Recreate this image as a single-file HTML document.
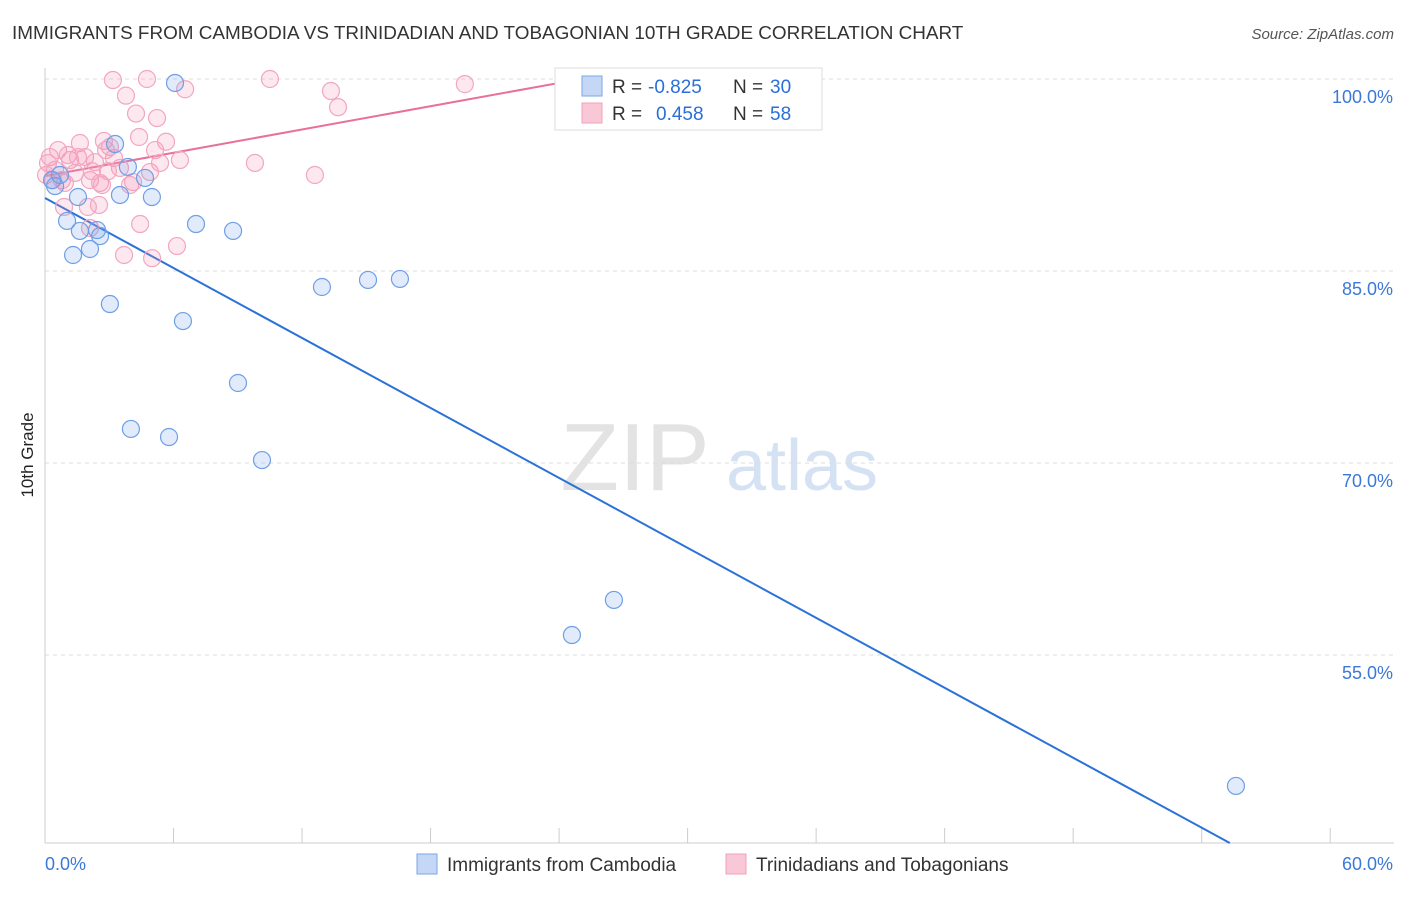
<!DOCTYPE html>
<html><head><meta charset="utf-8"><style>
body{margin:0;background:#fff;font-family:"Liberation Sans",sans-serif;}
svg text{font-family:"Liberation Sans",sans-serif;}
</style></head><body>
<svg id="chart" width="1406" height="892" xmlns="http://www.w3.org/2000/svg">
<text x="12" y="39" font-size="18.9" fill="#333">IMMIGRANTS FROM CAMBODIA VS TRINIDADIAN AND TOBAGONIAN 10TH GRADE CORRELATION CHART</text>
<text x="1394" y="39" font-size="15" fill="#555" text-anchor="end" font-style="italic">Source: ZipAtlas.com</text>
<text transform="translate(33,455) rotate(-90)" font-size="17" fill="#222" text-anchor="middle">10th Grade</text>
<g>
<text x="635" y="490" font-size="96" fill="#e3e3e3" font-family="Liberation Serif,serif" text-anchor="middle">ZIP</text>
<text x="802" y="490" font-size="72" fill="#d5e2f4" text-anchor="middle">atlas</text>
</g>
<g id="grid"></g><g id="axes"></g><g id="lines"></g><g id="pts"></g>
<g>
<rect x="555" y="68" width="267" height="62" fill="#fff" stroke="#ddd"/>
<rect x="582" y="76" width="20" height="20" fill="#c4d8f6" stroke="#7aa6e8"/>
<rect x="582" y="103" width="20" height="20" fill="#f9c8d7" stroke="#f0a0bc"/>
<text x="612" y="93" font-size="19" fill="#333">R =</text>
<text x="648" y="93" font-size="19" fill="#2a6fd8">-0.825</text>
<text x="733" y="93" font-size="19" fill="#333">N =</text>
<text x="770" y="93" font-size="19" fill="#2a6fd8">30</text>
<text x="612" y="120" font-size="19" fill="#333">R =</text>
<text x="656" y="120" font-size="19" fill="#2a6fd8">0.458</text>
<text x="733" y="120" font-size="19" fill="#333">N =</text>
<text x="770" y="120" font-size="19" fill="#2a6fd8">58</text>
</g>
<g>
<rect x="417" y="854" width="20" height="20" fill="#c4d8f6" stroke="#7aa6e8"/>
<text x="447" y="871" font-size="19" fill="#333">Immigrants from Cambodia</text>
<rect x="726" y="854" width="20" height="20" fill="#f9c8d7" stroke="#f0a0bc"/>
<text x="756" y="871" font-size="19" fill="#333">Trinidadians and Tobagonians</text>
</g>
</svg>
<script>
const yTicks=[100,85,70,55];
const yTickLabels=["100.0%","85.0%","70.0%","55.0%"];
const xTickLabels=["0.0%","60.0%"];
const blueX=[6.07,3.27,0.47,0.70,1.03,1.31,1.63,2.10,2.43,2.57,1.54,3.50,3.87,4.67,4.99,3.03,4.01,5.79,6.44,7.05,8.78,9.01,10.13,12.93,15.08,16.57,24.6,26.56,55.6,0.33];
const blueY=[99.69,94.92,91.64,92.5,88.91,86.25,88.13,86.72,88.2,87.73,90.78,90.94,93.13,92.27,90.78,82.42,72.66,72.03,81.09,88.67,88.13,76.25,70.23,83.75,84.3,84.38,56.56,59.3,44.77,92.1];
const pinkX=[3.17,4.76,10.5,19.6,28.2,6.54,3.78,13.35,13.68,4.25,5.23,4.39,5.65,1.63,2.75,3.03,5.14,0.23,0.61,1.17,1.87,2.33,3.22,6.30,9.80,0.14,0.47,1.40,0.79,2.10,2.57,3.50,4.90,4.11,12.6,0.89,2.0,2.52,4.44,6.16,3.69,5.0,2.94,1.07,2.10,2.66,1.54,0.93,3.97,2.19,2.85,0.37,5.37,0.05];
const pinkY=[99.92,100,100,99.6,100,99.2,98.7,99.06,97.8,97.3,96.95,95.47,95.1,95.0,95.16,94.69,94.45,93.9,94.45,93.67,93.9,93.5,93.83,93.67,93.44,93.44,92.9,92.66,92.1,92.1,91.88,93.05,92.73,91.95,92.5,90.0,90.0,90.16,88.67,86.95,86.25,86.0,92.8,94.06,88.36,91.72,93.9,91.88,91.72,92.8,94.45,92.1,93.44,92.5];
const blueFit=[90.7,-0.911];
const pinkFit=[92.42,0.303,25];
const X=v=>45+v*21.42, Y=v=>79+(100-v)*12.8;
const NS="http://www.w3.org/2000/svg";
function mk(p,t,a){const e=document.createElementNS(NS,t);for(const k in a)e.setAttribute(k,a[k]);document.getElementById(p).appendChild(e);return e;}
yTicks.forEach((t,i)=>{
 const g=mk('grid','line',{x1:45,x2:1394,y1:Y(t),y2:Y(t),stroke:'#ddd','stroke-dasharray':'4,4'});
 
 
 const l=mk('grid','text',{x:1393,y:Y(t)+24,'font-size':18,fill:'#3b78d8','text-anchor':'end'});
 l.textContent=yTickLabels[i];
 
 
});
const ax=mk('axes','line',{x1:45,x2:1394,y1:843,y2:843,stroke:'#ccc'});


const ay=mk('axes','line',{x1:45,x2:45,y1:68,y2:843,stroke:'#ccc'});


for(let i=0;i<=10;i++){const t=mk('axes','line',{x1:X(i*6),x2:X(i*6),y1:828,y2:843,stroke:'#ccc'});
 
 }
[[0,'start',45],[60,'end',1393]].forEach((d,i)=>{const t=mk('axes','text',{x:d[2],y:870,'font-size':18,fill:'#3b78d8','text-anchor':d[1]});t.textContent=xTickLabels[i];
 
 });
function dot(x,y,c,s,n){const e=mk('pts','circle',{cx:X(x),cy:Y(y),r:8.5,fill:c,stroke:s,'stroke-width':1.2});
 
 }
pinkX.forEach((x,i)=>dot(x,pinkY[i],'rgba(244,150,180,0.22)','#f2a6c0','trinidadian-point'));
blueX.forEach((x,i)=>dot(x,blueY[i],'rgba(120,165,235,0.22)','#6f9fe6','cambodia-point'));
const bxEnd=(40.31-blueFit[0])/blueFit[1];
const bl=mk('lines','line',{x1:X(0),y1:Y(blueFit[0]),x2:X(bxEnd),y2:Y(blueFit[0]+blueFit[1]*bxEnd),stroke:'#2a72d8','stroke-width':2});


const pl=mk('lines','line',{x1:X(0),y1:Y(pinkFit[0]),x2:X(pinkFit[2]),y2:Y(pinkFit[0]+pinkFit[1]*pinkFit[2]),stroke:'#e8709a','stroke-width':2});


</script>
</body></html>
